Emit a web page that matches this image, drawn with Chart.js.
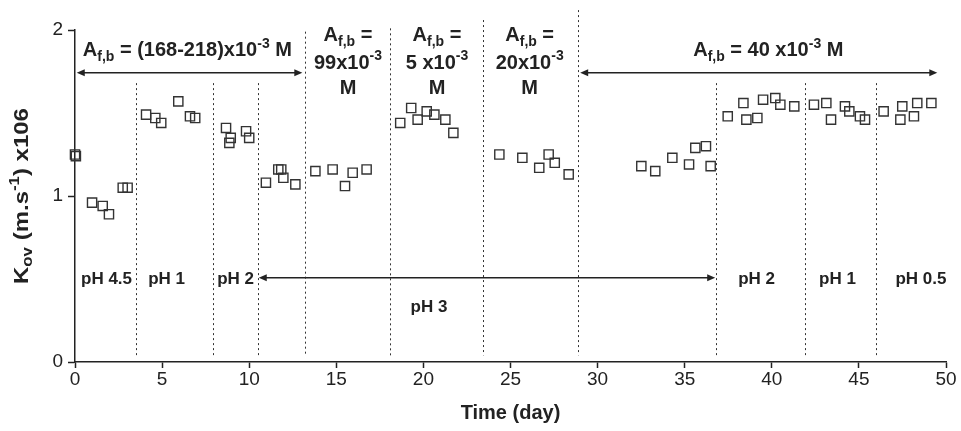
<!DOCTYPE html>
<html lang="en">
<head>
    <meta charset="UTF-8">
    <title>Kov vs time</title>
    <style>
        body { margin: 0; background: #fff; }
        canvas { display: block; }
    </style>
    <script src="https://cdn.jsdelivr.net/npm/chart.js"></script>
</head>
<body>
    <canvas id="kovChart" width="961" height="431"></canvas>

    <script>
        // measured points (day, Kov x10^6)
        const days = [0, 0.05, 0.98, 1.59, 1.95, 2.74, 3.02,
            4.08, 4.61, 4.95, 5.93, 6.6, 6.9,
            8.67, 8.94, 8.86, 9.82, 10.0,
            10.96, 11.67, 11.84, 11.96, 12.65,
            13.8, 14.79, 15.5, 15.94, 16.74,
            18.67, 19.3, 19.67, 20.19, 20.63, 21.26, 21.72,
            24.36, 25.68, 26.65, 27.19, 27.54, 28.34,
            32.51, 33.31, 34.29, 35.25, 35.61, 36.22, 36.49,
            37.47, 38.37, 38.54, 39.17, 39.5, 40.2, 40.49, 41.29,
            42.42, 43.13, 43.4, 44.2, 44.45, 45.06, 45.35,
            46.42, 47.38, 47.49, 48.16, 48.35, 49.16];
        const kov = [1.25, 1.24, 0.96, 0.94, 0.89, 1.05, 1.05,
            1.49, 1.47, 1.44, 1.57, 1.48, 1.47,
            1.41, 1.35, 1.32, 1.39, 1.35,
            1.08, 1.16, 1.16, 1.11, 1.07,
            1.15, 1.16, 1.06, 1.14, 1.16,
            1.44, 1.53, 1.46, 1.51, 1.49, 1.46, 1.38,
            1.25, 1.23, 1.17, 1.25, 1.2, 1.13,
            1.18, 1.15, 1.23, 1.19, 1.29, 1.3, 1.18,
            1.48, 1.56, 1.46, 1.47, 1.58, 1.59, 1.55, 1.54,
            1.55, 1.56, 1.46, 1.54, 1.51, 1.48, 1.46,
            1.51, 1.46, 1.54, 1.48, 1.56, 1.56];

        // phase boundaries (day)
        const dividers = [3.5, 7.9, 10.5, 13.2, 18.1, 23.4, 28.9, 36.8, 41.9, 46.0];
        const phLabels = ['pH 4.5', 'pH 1', 'pH 2', 'pH 3', 'pH 2', 'pH 1', 'pH 0.5'];
        const phDays = [1.81, 5.26, 9.22, 20.32, 39.13, 43.77, 48.56];
        const xTicks = [0, 5, 10, 15, 20, 25, 30, 35, 40, 45, 50];
        const yTicks = [0, 1, 2];

        const INK = '#222';
        const FONT = '"Liberation Sans", Arial, sans-serif';

        // draw text with sub/superscript pieces: [text, 'sub'|'sup'|'']
        function drawRich(ctx, parts, x, y, size, align, ratio) {
            ratio = ratio || 0.68;
            const fontOf = p => 'bold ' + (p[1] ? Math.round(size * ratio) : size) + 'px ' + FONT;
            let w = 0;
            parts.forEach(p => { ctx.font = fontOf(p); w += ctx.measureText(p[0]).width; });
            let cx = align === 'center' ? x - w / 2 : x;
            ctx.textAlign = 'left';
            ctx.textBaseline = 'middle';
            parts.forEach(p => {
                ctx.font = fontOf(p);
                let dy = p[1] === 'sub' ? size * 0.32 : (p[1] === 'sup' ? -size * 0.33 : 0);
                ctx.fillText(p[0], cx, y + dy);
                cx += ctx.measureText(p[0]).width;
            });
        }

        function arrowHead(ctx, x, y, dir) {
            ctx.beginPath();
            ctx.moveTo(x, y);
            ctx.lineTo(x - dir * 8, y - 3.5);
            ctx.lineTo(x - dir * 8, y + 3.5);
            ctx.closePath();
            ctx.fill();
        }

        function drawArrow(ctx, x1, x2, y) {
            ctx.beginPath();
            ctx.moveTo(x1 + 4, y);
            ctx.lineTo(x2 - 4, y);
            ctx.stroke();
            arrowHead(ctx, x1, y, -1);
            arrowHead(ctx, x2, y, 1);
        }

        const overlay = {
            id: 'overlay',
            beforeDatasetsDraw(chart) {
                const ctx = chart.ctx;
                const xs = chart.scales.x, ys = chart.scales.y;
                // tall lines reach the top, others start under the arrows
                const tops = {13.2: 1.99, 18.1: 2.01, 23.4: 2.06, 28.9: 2.12};
                ctx.save();
                ctx.strokeStyle = '#333';
                ctx.lineWidth = 1;
                ctx.setLineDash([2, 3]);
                dividers.forEach(d => {
                    const px = Math.round(xs.getPixelForValue(d)) + 0.5;
                    const top = tops[d] !== undefined ? tops[d] : 1.68;
                    ctx.beginPath();
                    ctx.moveTo(px, ys.getPixelForValue(top));
                    ctx.lineTo(px, ys.getPixelForValue(0.04));
                    ctx.stroke();
                });
                ctx.restore();
            },
            afterDraw(chart) {
                const ctx = chart.ctx;
                const xs = chart.scales.x, ys = chart.scales.y;
                const X = v => xs.getPixelForValue(v), Y = v => ys.getPixelForValue(v);
                ctx.save();
                ctx.fillStyle = INK;
                ctx.strokeStyle = INK;
                ctx.lineWidth = 1.5;

                // concentration headers
                drawRich(ctx, [['A', ''], ['f,b', 'sub'], [' = (168-218)x10', ''], ['-3', 'sup'], [' M', '']], X(6.45), Y(1.875), 20, 'center');
                drawRich(ctx, [['A', ''], ['f,b', 'sub'], [' = 40 x10', ''], ['-3', 'sup'], [' M', '']], X(39.8), Y(1.875), 20, 'center');
                const stacks = [
                    [15.67, [['99x10', ''], ['-3', 'sup']]],
                    [20.78, [['5 x10', ''], ['-3', 'sup']]],
                    [26.1, [['20x10', ''], ['-3', 'sup']]]
                ];
                stacks.forEach(s => {
                    drawRich(ctx, [['A', ''], ['f,b', 'sub'], [' =', '']], X(s[0]), Y(1.965), 20, 'center');
                    drawRich(ctx, s[1], X(s[0]), Y(1.8), 20, 'center');
                    drawRich(ctx, [['M', '']], X(s[0]), Y(1.645), 20, 'center');
                });
                drawArrow(ctx, X(0.1), X(13.05), Y(1.743));
                drawArrow(ctx, X(29.0), X(49.5), Y(1.743));

                // pH labels
                phLabels.forEach((t, i) => {
                    const yv = t === 'pH 3' ? 0.33 : 0.5;
                    drawRich(ctx, [[t, '']], X(phDays[i]), Y(yv), 17, 'center');
                });
                drawArrow(ctx, X(10.55), X(36.75), Y(0.508));

                // y axis title
                ctx.translate(22, (chart.chartArea.top + chart.chartArea.bottom) / 2);
                ctx.rotate(-Math.PI / 2);
                ctx.scale(1.2, 1);
                drawRich(ctx, [['K', ''], ['ov', 'sub'], [' (m.s', ''], ['-1', 'sup'], [') x106', '']], 0, 0, 20, 'center', 0.72);
                ctx.restore();
            }
        };

        const ctx = document.getElementById('kovChart').getContext('2d');
        window.myChart = new Chart(ctx, {
            type: 'scatter',
            data: {
                datasets: [{
                    label: 'Kov',
                    data: days.map((d, i) => ({x: d, y: kov[i]})),
                    clip: false,
                    pointStyle: 'rect',
                    pointRadius: 6.5,
                    pointHoverRadius: 6.5,
                    pointBorderWidth: 1.4,
                    borderColor: '#333',
                    backgroundColor: 'rgba(0,0,0,0)'
                }]
            },
            options: {
                responsive: false,
                animation: false,
                layout: { padding: { top: 30, right: 15, left: 0, bottom: 0 } },
                plugins: {
                    legend: { display: false },
                    tooltip: { enabled: false }
                },
                scales: {
                    x: {
                        type: 'linear',
                        min: 0,
                        max: 50,
                        afterBuildTicks: s => { s.ticks = xTicks.map(v => ({value: v})); },
                        afterFit: s => { s.height = 69; },
                        ticks: { color: INK, font: { family: FONT, size: 19 }, padding: 0, maxRotation: 0 },
                        grid: { drawOnChartArea: false, tickLength: 6, color: INK, tickWidth: 1.5 },
                        border: { color: INK, width: 1.5 },
                        title: {
                            display: true,
                            text: 'Time (day)',
                            color: INK,
                            font: { family: FONT, size: 20, weight: 'bold' },
                            padding: { top: 0, bottom: 6 }
                        }
                    },
                    y: {
                        min: 0,
                        max: 2,
                        afterBuildTicks: s => { s.ticks = yTicks.map(v => ({value: v})); },
                        afterFit: s => { s.width = 75; },
                        ticks: { color: INK, font: { family: FONT, size: 19 }, padding: 5 },
                        grid: { drawOnChartArea: false, tickLength: 7, color: INK, tickWidth: 1.5 },
                        border: { color: INK, width: 1.5 }
                    }
                }
            },
            plugins: [overlay]
        });
    </script>
</body>
</html>
